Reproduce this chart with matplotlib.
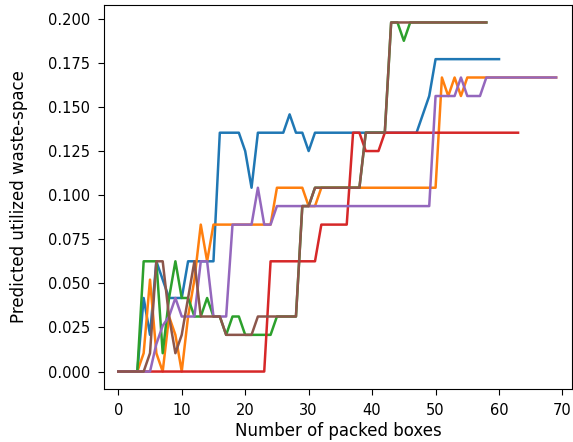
import matplotlib
matplotlib.use("Agg")
import matplotlib.pyplot as plt

# Predicted utilized waste-space per run, indexed by number of packed boxes
run_blue = [0.0, 0.0, 0.0, 0.0, 0.0417, 0.0208, 0.0625, 0.0521, 0.0417, 0.0417,
            0.0417, 0.0625, 0.0625, 0.0625, 0.0625, 0.0625, 0.1354, 0.1354, 0.1354, 0.1354,
            0.125, 0.1042, 0.1354, 0.1354, 0.1354, 0.1354, 0.1354, 0.1458, 0.1354, 0.1354,
            0.125, 0.1354, 0.1354, 0.1354, 0.1354, 0.1354, 0.1354, 0.1354, 0.1354, 0.1354,
            0.1354, 0.1354, 0.1354, 0.1354, 0.1354, 0.1354, 0.1354, 0.1354, 0.1458, 0.1562,
            0.1771, 0.1771, 0.1771, 0.1771, 0.1771, 0.1771, 0.1771, 0.1771, 0.1771, 0.1771,
            0.1771]

run_orange = [0.0, 0.0, 0.0, 0.0, 0.0104, 0.0521, 0.0104, 0.0, 0.0312, 0.0208,
              0.0, 0.0312, 0.0521, 0.0833, 0.0625, 0.0833, 0.0833, 0.0833, 0.0833, 0.0833,
              0.0833, 0.0833, 0.0833, 0.0833, 0.0833, 0.1042, 0.1042, 0.1042, 0.1042, 0.1042,
              0.0938, 0.0938, 0.1042, 0.1042, 0.1042, 0.1042, 0.1042, 0.1042, 0.1042, 0.1042,
              0.1042, 0.1042, 0.1042, 0.1042, 0.1042, 0.1042, 0.1042, 0.1042, 0.1042, 0.1042,
              0.1042, 0.1667, 0.1562, 0.1667, 0.1562, 0.1667, 0.1667, 0.1667, 0.1667, 0.1667,
              0.1667, 0.1667, 0.1667, 0.1667, 0.1667, 0.1667, 0.1667, 0.1667, 0.1667, 0.1667]

run_green = [0.0, 0.0, 0.0, 0.0, 0.0625, 0.0625, 0.0625, 0.0104, 0.0417, 0.0625,
             0.0417, 0.0417, 0.0312, 0.0312, 0.0417, 0.0312, 0.0312, 0.0208, 0.0312, 0.0312,
             0.0208, 0.0208, 0.0208, 0.0208, 0.0208, 0.0312, 0.0312, 0.0312, 0.0312, 0.0938,
             0.0938, 0.1042, 0.1042, 0.1042, 0.1042, 0.1042, 0.1042, 0.1042, 0.1042, 0.1354,
             0.1354, 0.1354, 0.1354, 0.1979, 0.1979, 0.1875, 0.1979, 0.1979, 0.1979, 0.1979,
             0.1979, 0.1979, 0.1979, 0.1979, 0.1979, 0.1979, 0.1979, 0.1979, 0.1979]

run_red = [0.0, 0.0, 0.0, 0.0, 0.0, 0.0, 0.0, 0.0, 0.0, 0.0,
           0.0, 0.0, 0.0, 0.0, 0.0, 0.0, 0.0, 0.0, 0.0, 0.0,
           0.0, 0.0, 0.0, 0.0, 0.0625, 0.0625, 0.0625, 0.0625, 0.0625, 0.0625,
           0.0625, 0.0625, 0.0833, 0.0833, 0.0833, 0.0833, 0.0833, 0.1354, 0.1354, 0.125,
           0.125, 0.125, 0.1354, 0.1354, 0.1354, 0.1354, 0.1354, 0.1354, 0.1354, 0.1354,
           0.1354, 0.1354, 0.1354, 0.1354, 0.1354, 0.1354, 0.1354, 0.1354, 0.1354, 0.1354,
           0.1354, 0.1354, 0.1354, 0.1354]

run_purple = [0.0, 0.0, 0.0, 0.0, 0.0, 0.0, 0.0156, 0.026, 0.0312, 0.0417,
              0.0312, 0.0312, 0.0312, 0.0625, 0.0625, 0.0312, 0.0312, 0.0312, 0.0833, 0.0833,
              0.0833, 0.0833, 0.1042, 0.0833, 0.0833, 0.0938, 0.0938, 0.0938, 0.0938, 0.0938,
              0.0938, 0.0938, 0.0938, 0.0938, 0.0938, 0.0938, 0.0938, 0.0938, 0.0938, 0.0938,
              0.0938, 0.0938, 0.0938, 0.0938, 0.0938, 0.0938, 0.0938, 0.0938, 0.0938, 0.0938,
              0.1562, 0.1562, 0.1562, 0.1562, 0.1667, 0.1562, 0.1562, 0.1562, 0.1667, 0.1667,
              0.1667, 0.1667, 0.1667, 0.1667, 0.1667, 0.1667, 0.1667, 0.1667, 0.1667, 0.1667]

run_brown = [0.0, 0.0, 0.0, 0.0, 0.0, 0.0104, 0.0625, 0.0625, 0.0312, 0.0104,
             0.0208, 0.0417, 0.0625, 0.0312, 0.0312, 0.0312, 0.0312, 0.0208, 0.0208, 0.0208,
             0.0208, 0.0208, 0.0312, 0.0312, 0.0312, 0.0312, 0.0312, 0.0312, 0.0312, 0.0938,
             0.0938, 0.1042, 0.1042, 0.1042, 0.1042, 0.1042, 0.1042, 0.1042, 0.1042, 0.1354,
             0.1354, 0.1354, 0.1354, 0.1979, 0.1979, 0.1979, 0.1979, 0.1979, 0.1979, 0.1979,
             0.1979, 0.1979, 0.1979, 0.1979, 0.1979, 0.1979, 0.1979, 0.1979, 0.1979]

runs = [run_blue, run_orange, run_green, run_red, run_purple, run_brown]

W, H = 573, 442
fig = plt.figure(figsize=(W / 100, H / 100), dpi=100)
ax = fig.add_axes([104 / W, 1 - 389 / H, (572 - 104) / W, (389 - 5) / H])

for values in runs:
    ax.plot(range(len(values)), values, linewidth=1.8)

ax.set_xlim(-2.25, 71.5)
ax.set_ylim(-0.0099, 0.2078)
ax.set_xticks(range(0, 71, 10))
ax.set_yticks([0.0, 0.025, 0.05, 0.075, 0.1, 0.125, 0.15, 0.175, 0.2])
ax.set_yticklabels([f"{v:.3f}" for v in ax.get_yticks()])
ax.tick_params(labelsize=10.5, pad=6, length=4)
ax.set_xlabel("Number of packed boxes", fontsize=12, labelpad=3)
ax.set_ylabel("Predicted utilized waste-space", fontsize=12, labelpad=14)

fig.savefig("out.png", dpi=100)
